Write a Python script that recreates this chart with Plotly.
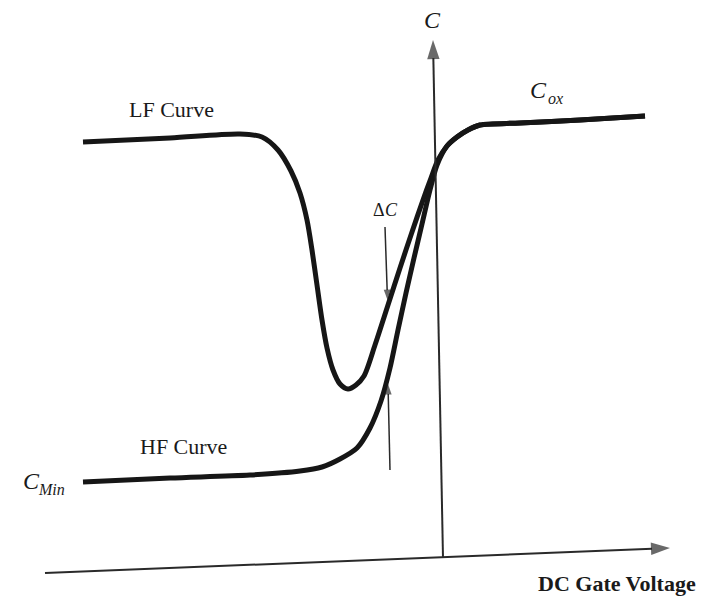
import plotly.graph_objects as go

# Schematic MOS capacitance–voltage sketch (arbitrary units)
W, H = 707, 598

# Low-frequency curve: gate voltage vs capacitance
vg_lf = [83, 170, 240, 262, 278, 291, 300, 307, 312, 317, 322, 327, 333, 340,
         348, 356, 364, 375, 388, 400, 412, 423, 431, 438, 447, 457, 468, 480,
         520, 580, 645]
c_lf = [456, 460, 464, 461, 448, 427, 405, 378, 348, 313, 278, 250, 228, 214,
        209, 213, 222, 253, 293, 330, 366, 398, 420, 438, 452, 461, 468, 473,
        475, 478, 482]

# High-frequency curve
vg_hf = [83, 170, 250, 300, 322, 340, 357, 370, 381, 390, 398, 406, 414, 422,
         430, 437, 447, 457, 468, 480, 520, 580, 645]
c_hf = [116, 120, 123, 127, 131, 139, 150, 170, 197, 230, 268, 305, 340, 374,
        408, 433, 452, 461, 468, 473, 475, 478, 482]

# Arrows as (tail, head, line width, head size)
arrows = [
    ((443, 40), (433, 558), 2.0, 20),      # capacitance axis
    ((45, 25), (670, 50), 2.0, 20),        # gate-voltage axis
    ((385, 371), (387.5, 298), 1.5, 11),   # delta-C, from above
    ((390, 128), (388, 214), 1.5, 11),     # delta-C, from below
]

# Text labels: (text, x, y, size, style, weight)
labels = [
    ("LF Curve", 171, 489, 22, "normal", "normal"),
    ("HF Curve", 183, 152, 22, "normal", "normal"),
    ("C", 31, 117, 24, "italic", "normal"),
    ("Min", 51, 109, 16, "italic", "normal"),
    ("C", 538, 508, 24, "italic", "normal"),
    ("ox", 555, 500, 16, "italic", "normal"),
    ("C", 432, 578, 24, "italic", "normal"),
    ("Δ", 379, 388, 18, "normal", "normal"),
    ("C", 391, 388, 18, "italic", "normal"),
    ("DC Gate Voltage", 617, 15, 22, "normal", "bold"),
]

ink = "#161616"
axis_ink = "#2a2a2a"
fig = go.Figure()
for vg, c in [(vg_lf, c_lf), (vg_hf, c_hf)]:
    fig.add_trace(go.Scatter(x=vg, y=c, mode="lines",
                             line=dict(color=ink, width=5, shape="spline",
                                       smoothing=0.8),
                             hoverinfo="skip"))

for tail, head, w, size in arrows:
    fig.add_trace(go.Scatter(
        x=[tail[0], head[0]], y=[tail[1], head[1]],
        mode="lines+markers",
        line=dict(color=axis_ink, width=w),
        marker=dict(symbol="arrow", size=[0, size], angleref="previous",
                    color=axis_ink, line=dict(width=0)),
        hoverinfo="skip"))

annotations = []
for text, x, y, size, style, weight in labels:
    annotations.append(dict(x=x, y=y, xref="x", yref="y", text=text,
                            showarrow=False,
                            font=dict(family="Liberation Serif", size=size,
                                      color="#1a1a1a", style=style,
                                      weight=weight)))

fig.update_layout(
    width=W, height=H, autosize=False,
    margin=dict(l=0, r=0, t=0, b=0),
    paper_bgcolor="white", plot_bgcolor="white",
    showlegend=False,
    xaxis=dict(range=[0, W], visible=False, fixedrange=True),
    yaxis=dict(range=[0, H], visible=False, fixedrange=True),
    annotations=annotations,
)

fig.write_html("out.html")
